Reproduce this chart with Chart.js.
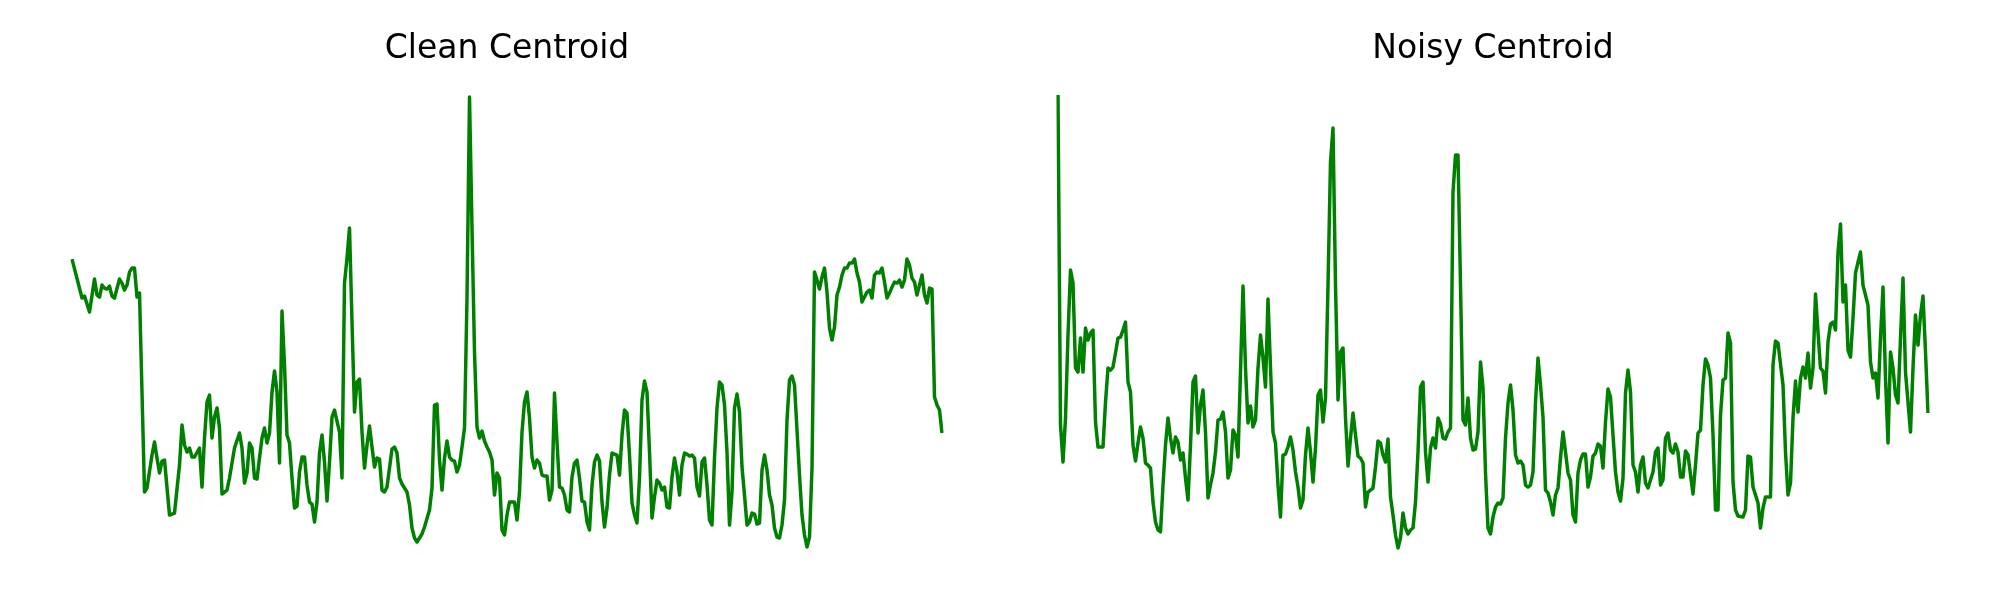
<!DOCTYPE html>
<html>
<head>
<meta charset="utf-8">
<title>Clean vs Noisy Centroid</title>
<script src="https://cdn.jsdelivr.net/npm/chart.js@4.4.1/dist/chart.umd.min.js"></script>
<style>
  html, body { margin: 0; padding: 0; background: #fff; }
  #wrap { position: relative; width: 2000px; height: 600px; overflow: hidden; }
  canvas { position: absolute; top: 0; }
</style>
</head>
<body>
<div id="wrap">
  <canvas id="chart-clean" width="1000" height="600" style="left:7px"></canvas>
  <canvas id="chart-noisy" width="1000" height="600" style="left:993px"></canvas>
</div>
<script>
// frame index 0..348 (same length for both signals)
var frames = [];
for (var i = 0; i <= 348; i++) frames.push(i);

var titles = ["Clean Centroid", "Noisy Centroid"];

// values, null = frame not read (line joins neighbours)
var cleanCentroid = [
  301,null,null,null,262,264,null,248,null,281, 265,263,275,272,271,274,264,262,null,281,
  277,270,275,288,292,292,263,267,null,68, 72,null,105,118,102,87,99,100,null,45,
  null,47,null,95,135,115,108,112,103,103, null,112,73,122,158,165,122,143,152,132,
  66,null,70,82,null,112,null,127,112,77, 87,117,112,82,81,102,122,132,117,127,
  168,189,168,97,249,195,125,117,82,52, 54,88,103,103,75,58,56,38,58,107,
  125,98,59,98,143,150,null,128,82,277, 302,332,238,148,178,181,128,92,115,134,
  113,93,102,101,70,68,73,92,111,113, 107,82,76,null,68,55,32,22,18,22,
  26,33,null,50,72,155,156,100,70,102, 119,103,100,99,88,95,113,132,262,463,
  332,208,133,122,129,119,113,108,100,65, 87,82,30,25,45,58,null,58,40,68,
  128,158,168,142,103,92,100,97,85,84, 84,60,70,167,118,73,72,65,50,48,
  83,97,100,82,59,58,38,30,75,98, 105,99,58,33,52,85,107,null,105,85,
  125,150,147,105,57,45,37,82,160,179, 168,108,42,63,80,77,70,73,53,52,
  83,102,88,65,95,107,106,104,105,102, 73,64,98,102,75,40,35,102,152,178,
  175,155,108,35,68,152,166,148,93,65, 35,38,47,46,36,37,90,105,90,65,
  55,32,23,22,35,60,140,180,184,175, 130,85,45,25,13,23,92,288,280,271,
  283,292,268,232,220,233,265,273,285,292, 292,297,297,301,287,278,258,263,268,270,
  262,285,288,287,292,278,262,267,273,278, 277,280,273,280,301,295,282,278,265,275,
  285,265,257,272,271,163,155,150,127
];

var noisyCentroid = [
  465,135,98,142,225,290,277,192,188,222, 188,232,220,227,230,138,113,null,113,158,
  192,190,193,207,222,223,230,238,178,168, 115,99,117,133,122,97,95,92,58,38,
  30,28,75,115,142,122,107,123,118,100, 107,82,60,115,178,184,127,155,170,128,
  62,75,87,108,140,141,148,128,82,90, 130,125,103,null,274,192,137,154,133,140,
  192,225,202,173,261,192,128,117,75,43, 105,106,113,123,110,88,73,52,60,105,
  132,108,78,112,165,170,138,162,275,398, 432,275,160,208,212,142,94,122,147,125,
  104,102,97,53,68,null,72,93,119,117, 105,98,121,63,45,25,12,22,47,32,
  26,30,32,58,108,173,178,108,78,112, 122,112,142,136,122,121,128,132,368,405,
  405,275,140,135,162,122,110,111,128,198, 172,87,32,26,43,53,57,56,62,122,
  157,175,150,105,97,99,95,75,73,75, 88,158,202,175,143,70,67,58,45,65,
  72,102,128,108,87,80,45,38,87,100, 106,106,73,83,104,107,116,114,92,138,
  171,163,125,88,68,59,82,167,190,168, 95,88,68,95,103,77,72,80,88,108,
  112,75,80,122,127,110,107,116,108,83, 83,109,105,null,66,95,127,130,175,201,
  195,182,125,50,50,145,180,182,227,217, 78,50,44,null,43,50,104,103,73,null,
  57,32,52,63,null,63,195,219,217,null, 175,108,65,77,142,179,148,182,193,182,
  207,172,192,266,228,192,189,167,218,236, 238,230,308,336,258,275,210,203,242,287,
  298,308,275,265,255,198,182,187,162,222, 273,182,117,208,192,165,157,222,282,188,
  null,128,192,245,215,245,264,208,147
];

function makeChart(id, title, values) {
  return new Chart(document.getElementById(id), {
    type: 'line',
    data: {
      labels: frames,
      datasets: [{
        data: values,
        borderColor: '#008000',
        borderWidth: 3.5,
        borderJoinStyle: 'round',
        pointRadius: 0,
        tension: 0,
        fill: false,
        spanGaps: true
      }]
    },
    options: {
      responsive: false,
      animation: false,
      devicePixelRatio: 1,
      layout: { padding: { left: 65, right: 65, top: 0, bottom: 50 } },
      plugins: {
        legend: { display: false },
        tooltip: { enabled: false },
        title: {
          display: true,
          text: title,
          color: '#000000',
          font: { family: 'DejaVu Sans', size: 33, weight: 'normal', lineHeight: 1.2 },
          padding: { top: 30, bottom: 24.5 }
        }
      },
      scales: {
        x: { display: false },
        y: { display: false, min: 10, max: 466 }
      }
    }
  });
}

makeChart('chart-clean', titles[0], cleanCentroid);
makeChart('chart-noisy', titles[1], noisyCentroid);
</script>
</body>
</html>
